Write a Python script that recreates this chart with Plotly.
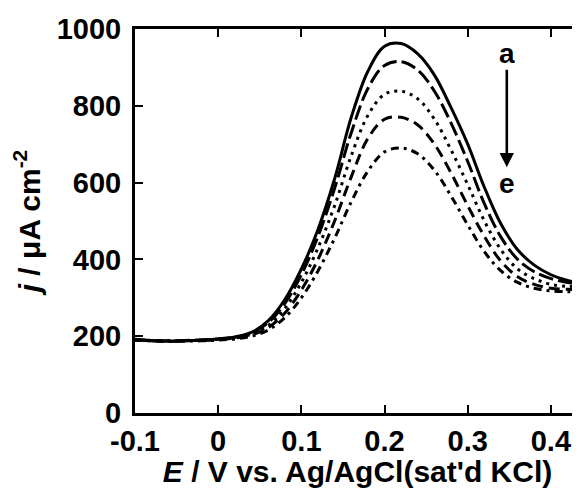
import plotly.graph_objects as go

# potencial (V vs. Ag/AgCl) y densidad de corriente (uA cm-2), curvas a-e
potencial = [-0.10, -0.08, -0.06, -0.04, -0.02, 0.00, 0.02, 0.04, 0.06, 0.08,
             0.10, 0.12, 0.14, 0.16, 0.18, 0.20, 0.22, 0.24, 0.26, 0.28,
             0.30, 0.32, 0.34, 0.36, 0.38, 0.40, 0.42, 0.432]

curva_a = [190, 188, 187, 188, 190, 193, 198, 210, 240, 295,
           375, 478, 610, 770, 890, 955, 962, 935, 880, 795,
           700, 588, 492, 425, 385, 360, 345, 340]
curva_b = [192, 189, 188, 189, 190, 193, 197, 208, 235, 285,
           360, 460, 585, 730, 845, 905, 915, 893, 838, 755,
           655, 545, 458, 400, 368, 350, 340, 338]
curva_c = [191, 189, 188, 188, 190, 192, 196, 205, 228, 272,
           340, 430, 540, 670, 775, 830, 838, 818, 765, 685,
           595, 500, 425, 375, 350, 335, 330, 330]
curva_d = [190, 188, 187, 188, 189, 191, 195, 203, 222, 260,
           320, 400, 500, 615, 715, 765, 770, 750, 700, 625,
           540, 460, 395, 355, 335, 325, 322, 322]
curva_e = [190, 188, 187, 187, 188, 190, 193, 200, 216, 248,
           300, 370, 455, 550, 630, 680, 690, 675, 632, 565,
           490, 420, 370, 340, 325, 318, 316, 316]

curvas = [("a", curva_a, "solid"), ("b", curva_b, "15px,5px"),
          ("c", curva_c, "3px,5px"), ("d", curva_d, "11px,6px"),
          ("e", curva_e, "8px,5px,3px,5px")]

fuente = "Liberation Sans, Arial, sans-serif"

fig = go.Figure()
for nombre, valores, estilo in curvas:
    fig.add_trace(go.Scatter(
        x=potencial, y=valores, mode="lines", name=nombre,
        line=dict(color="black", width=3, dash=estilo, shape="spline"),
        showlegend=False
    ))

# flecha a -> e
fig.add_annotation(x=0.347, y=640, ax=0.347, ay=898, xref="x", yref="y",
                   axref="x", ayref="y", text="", showarrow=True,
                   arrowhead=2, arrowsize=1.1, arrowwidth=2.6, arrowcolor="black")
fig.add_annotation(x=0.347, y=935, text="a", showarrow=False,
                   font=dict(family=fuente, size=28, color="black", weight="bold"))
fig.add_annotation(x=0.347, y=598, text="e", showarrow=False,
                   font=dict(family=fuente, size=28, color="black", weight="bold"))

eje = dict(showline=True, linecolor="black", linewidth=3, ticks="inside",
           tickcolor="black", tickwidth=2, ticklen=8, showgrid=False,
           zeroline=False,
           tickfont=dict(family=fuente, size=29, color="black", weight="bold"))

# la página añade 8 px de margen al cuerpo: la figura es 8 px más pequeña
fig.update_layout(
    width=572, height=480,
    margin=dict(t=21, b=75, l=127, r=0),
    plot_bgcolor="white", paper_bgcolor="white",
    xaxis=dict(eje, range=[-0.1, 0.435], tickvals=[-0.1, 0, 0.1, 0.2, 0.3, 0.4],
               ticktext=["-0.1", "0", "0.1", "0.2", "0.3", "0.4"], mirror="ticks",
               title=dict(text="<i>E</i> / V vs. Ag/AgCl(sat'd KCl)", standoff=6,
                          font=dict(family=fuente, size=30, color="black", weight="bold"))),
    yaxis=dict(eje, range=[0, 1000], tickvals=[0, 200, 400, 600, 800, 1000],
               ticklabelstandoff=5,
               title=dict(text="<i>j</i> / μA cm<sup>-2</sup>", standoff=10,
                          font=dict(family=fuente, size=30, color="black", weight="bold"))),
)

fig.write_html("out.html")
